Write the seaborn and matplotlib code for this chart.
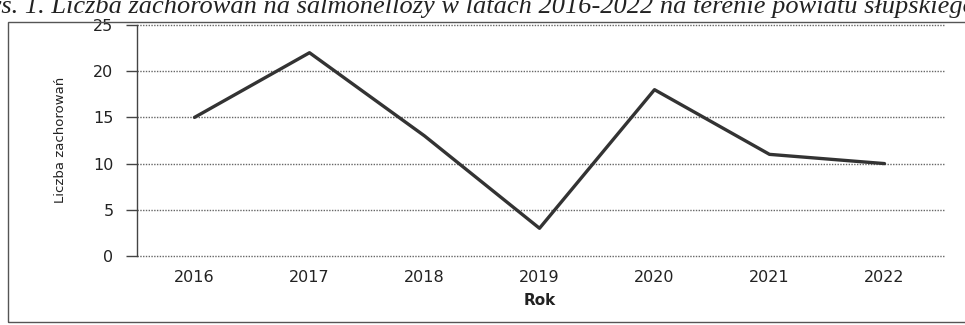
import matplotlib
matplotlib.use("Agg")
import matplotlib.pyplot as plt
import seaborn as sns
import pandas as pd
from matplotlib.patches import Rectangle

years = ["2016", "2017", "2018", "2019", "2020", "2021", "2022"]
cases = [15, 22, 13, 3, 18, 11, 10]
y_ticks = [0, 5, 10, 15, 20, 25]
title = "Rys. 1. Liczba zachorowań na salmonellozy w latach 2016-2022 na terenie powiatu słupskiego"
x_label = "Rok"
y_label = "Liczba zachorowań"

sns.set_theme(style="white")
plt.rcParams['font.family'] = ['DejaVu Sans']

df = pd.DataFrame({"Rok": years, "Liczba": cases})

W, H = 965, 325
fig = plt.figure(figsize=(W / 100, H / 100), dpi=100)
ax = fig.add_axes([137 / W, (H - 256) / H, (942 - 137) / W, (256 - 25) / H])

sns.lineplot(data=df, x="Rok", y="Liczba", ax=ax, color="#333333", linewidth=2.4,
             sort=False)

ax.set_xlim(-0.5, len(years) - 0.5)
ax.set_ylim(0, 25)
ax.set_yticks(y_ticks)
ax.set_yticklabels([str(v) for v in y_ticks])

for v in y_ticks:
    ax.axhline(v, color="#666666", linestyle=(0, (1, 1)), linewidth=1.0, zorder=0,
               xmax=(945 - 137) / (942 - 137), clip_on=False)

for s in ["top", "right", "bottom"]:
    ax.spines[s].set_visible(False)
ax.spines["left"].set_color("#444444")
ax.spines["left"].set_linewidth(1.0)

ax.tick_params(axis="y", length=8, width=1.0, color="#444444", left=True,
               labelsize=11.5, labelcolor="#222222", pad=9)
ax.tick_params(axis="x", length=0, labelsize=11.5, labelcolor="#222222", pad=10)

ax.set_xlabel(x_label, fontsize=11, fontweight="bold", color="#222222", labelpad=6)
ax.set_ylabel("")
fig.text(60 / W, 1 - 140 / H, y_label, rotation=90, ha="center", va="center",
         fontsize=9.5, color="#222222",
         family=["Liberation Sans Narrow", "DejaVu Sans"])

# outer frame of the chart
fig.patches.append(Rectangle((8 / W, (H - 322) / H), 1.2, (322 - 22) / H,
                             transform=fig.transFigure, fill=False,
                             edgecolor="#555555", linewidth=1.0))

fig.text(-26 / W, 1 - 13 / H, title, ha="left", va="baseline", fontsize=19,
         style="italic", family=["Liberation Serif", "DejaVu Serif"], color="#222222")

fig.savefig("out.png", dpi=100)
